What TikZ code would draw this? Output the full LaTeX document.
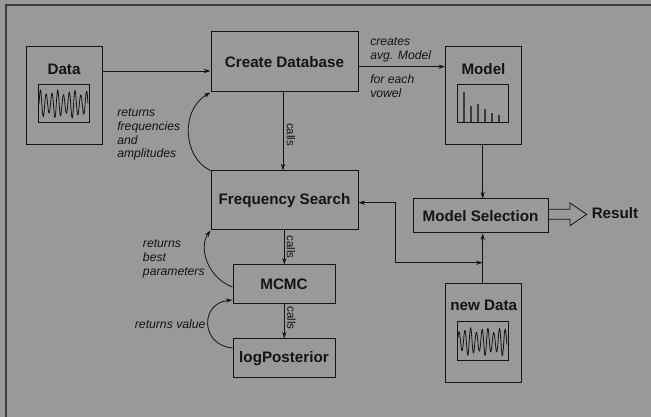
\documentclass[tikz,border=0pt]{standalone}
\usepackage{fontspec}
\setmainfont{Liberation Sans}
\usetikzlibrary{arrows.meta}
\definecolor{bg}{HTML}{999999}
\definecolor{ink}{HTML}{141414}
\definecolor{framec}{HTML}{3C3C3C}
\definecolor{spike}{HTML}{3A3A3A}
\begin{document}
\begin{tikzpicture}[x=0.75pt,y=-0.75pt,
  box/.style={draw=ink, line width=0.75pt, inner sep=0pt, text=ink,
    font=\fontsize{11.4}{13}\selectfont\bfseries},
  ttl/.style={inner sep=0pt, text=ink, font=\fontsize{11.4}{13}\selectfont\bfseries},
  lbl/.style={inner sep=0pt, text=ink, align=left,
    font=\fontsize{9.15}{10.3}\selectfont\itshape},
  callsl/.style={inner sep=0pt, text=ink, rotate=-90,
    font=\fontsize{8.6}{10}\selectfont},
  arr/.style={-{Stealth[length=5pt,width=3.2pt]}, line width=0.6pt, draw=ink},
  wave/.style={draw=ink, line width=0.6pt}]
\useasboundingbox (0,0) rectangle (651,417);
\fill[bg] (0,0) rectangle (651,417);
\draw[framec, line width=1.6pt] (6,417) -- (6,5) -- (651,5);

% boxes
\node[box, minimum width=57pt, minimum height=73.5pt] (data) at (64,96) {};
\node[ttl] (datat) at (64,69) {Data};
\node[box, minimum width=38.25pt, minimum height=28.5pt] (dataw) at (63.5,104) {};
\draw[wave] plot[domain=0:1, samples=200, smooth]
  ({39+49*\x}, {104 - 14*sin(8.5*360*\x)*(0.82+0.18*sin(3*360*\x+60))});

\node[box, minimum width=110.25pt, minimum height=45pt] (create) at (284.5,62) {Create Database};

\node[box, minimum width=57pt, minimum height=73.5pt] (model) at (483.5,96) {};
\node[ttl] (modelt) at (483.5,69) {Model};
\node[box, minimum width=38.25pt, minimum height=28.5pt] (modelc) at (482.8,103.3) {};
\foreach \xx/\yy in {464/92.3, 471/106, 478/104, 485/108.7, 492/113, 499/115.3}
  \draw[spike, line width=0.8pt] (\xx,122.3) -- (\xx,\yy);

\node[box, minimum width=110.25pt, minimum height=44.25pt] (freq) at (284.5,200.5) {Frequency Search};
\node[box, minimum width=76.5pt, minimum height=29.25pt] (mcmc) at (284,284.5) {MCMC};
\node[box, minimum width=76.5pt, minimum height=29.25pt] (logp) at (284,358.5) {logPosterior};
\node[box, minimum width=101.25pt, minimum height=25.5pt] (msel) at (480.5,216) {Model Selection};

\node[box, minimum width=57pt, minimum height=74.25pt] (newdata) at (483.7,333.2) {};
\node[ttl] (newdatat) at (483.7,305.7) {new Data};
\node[box, minimum width=38.25pt, minimum height=29.25pt] (neww) at (482.8,341.5) {};
\draw[wave] plot[domain=0:1, samples=200, smooth]
  ({458+49*\x}, {341.5 - 14*sin(8.5*360*\x+20)*(0.82+0.18*sin(3*360*\x+200))});

\node[ttl, anchor=west] (result) at (591.5,213.5) {Result};

% connectors
\draw[arr] (data.east |- 0,71) -- (create.west |- 0,71);
\draw[arr] (create.east |- 0,66.7) -- (model.west |- 0,66.7);
\node[lbl, anchor=west] (lcreates) at (370,49.5) {creates\\avg. Model};
\node[lbl, anchor=west] (lfor) at (370,86) {for each\\vowel};

\draw[arr] (283,0 |- create.south) -- (283,0 |- freq.north);
\node[callsl] (c1) at (291,134.5) {calls};
\draw[arr] (284.3,0 |- freq.south) -- (284.3,0 |- mcmc.north);
\node[callsl] (c2) at (291,247) {calls};
\draw[arr] (284.3,0 |- mcmc.south) -- (284.3,0 |- logp.north);
\node[callsl] (c3) at (291.5,318) {calls};

\draw[arr] (freq.north west) .. controls (183,158) and (180,110) .. (create.south west);
\node[lbl, anchor=west] (lret1) at (117,134.5) {returns\\frequencies\\and\\amplitudes};
\draw[arr] (mcmc.west |- 0,287) .. controls (208,278) and (198,248) .. (freq.south west);
\node[lbl, anchor=west] (lret2) at (142.7,259) {returns\\best\\parameters};
\draw[arr] (logp.west |- 0,348) .. controls (200,345) and (200,303) .. (mcmc.west |- 0,300);
\node[lbl, anchor=east] (lret3) at (205.7,324) {returns value};

\draw[arr] (482.7,0 |- model.south) -- (482.7,0 |- msel.north);
\draw[arr] (482.7,0 |- newdata.north) -- (482.7,0 |- msel.south);
\coordinate (junc) at (482.7,262.7);
\draw[{Stealth[length=5pt,width=3.2pt]}-{Stealth[length=5pt,width=3.2pt]}, line width=0.6pt, draw=ink]
  (freq.east |- 0,202.7) -- (395,202.7) -- (395,262.7) -- (junc);

\draw[ink, line width=0.6pt] (msel.east |- 0,209.3) -- (570,209.3) -- (570,203)
  -- (586.7,214.3) -- (570,225.7) -- (570,219.3) -- (msel.east |- 0,219.3);
\end{tikzpicture}
\end{document}
